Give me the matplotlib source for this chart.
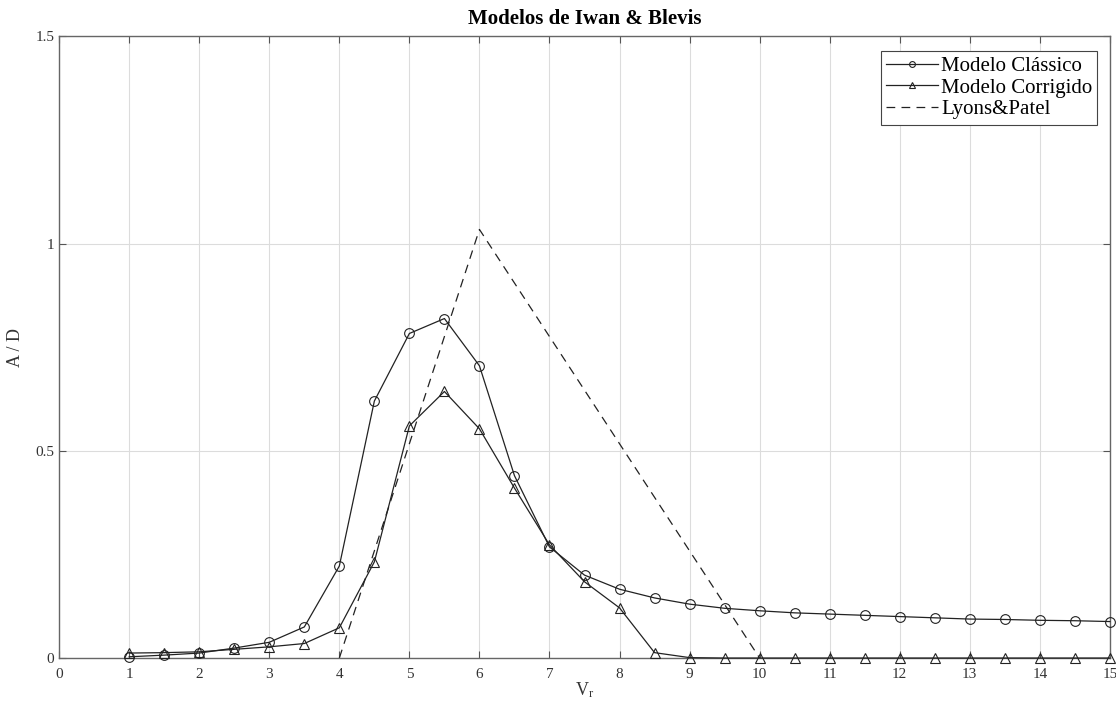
import numpy as np
import matplotlib
matplotlib.use('Agg')
import matplotlib.pyplot as plt

# Times-like font, as in the original MATLAB figure
matplotlib.rcParams['font.family'] = ['Liberation Serif', 'DejaVu Serif']
matplotlib.rcParams['mathtext.fontset'] = 'stix'

# reduced velocity
vr = [1, 1.5, 2, 2.5, 3, 3.5, 4, 4.5, 5, 5.5, 6, 6.5, 7, 7.5, 8, 8.5,
      9, 9.5, 10, 10.5, 11, 11.5, 12, 12.5, 13, 13.5, 14, 14.5, 15]

# amplitude ratios A/D
classico = [0.003, 0.007, 0.012, 0.024, 0.038, 0.075, 0.222, 0.62, 0.783, 0.819,
            0.705, 0.44, 0.268, 0.2, 0.166, 0.145, 0.13, 0.12, 0.114, 0.109,
            0.106, 0.103, 0.1, 0.097, 0.094, 0.093, 0.091, 0.09, 0.088]
corrigido = [0.012, 0.013, 0.015, 0.021, 0.027, 0.035, 0.073, 0.232, 0.56, 0.643,
             0.553, 0.41, 0.273, 0.184, 0.121, 0.013, 0.001, 0.0, 0.0, 0.0,
             0.0, 0.0, 0.0, 0.0, 0.0, 0.0, 0.0, 0.0, 0.0]

lyons_vr = [4, 6, 10]
lyons = [0.0, 1.034, 0.0]

x_ticks = list(range(0, 16))
y_ticks = [0, 0.5, 1, 1.5]
y_tick_labels = ['0', '0.5', '1', '1.5']

fig = plt.figure(figsize=(11.16, 7.11), dpi=100)
ax = fig.add_axes([0.053, 0.0745, 0.9415, 0.8745])

ax.plot(vr, classico, color='#222222', linewidth=0.9, marker='o', markersize=7,
        markerfacecolor='none', markeredgewidth=0.8, label='Modelo Clássico',
        clip_on=False, zorder=3)
ax.plot(vr, corrigido, color='#222222', linewidth=0.9, marker='^', markersize=7,
        markerfacecolor='none', markeredgewidth=0.8, label='Modelo Corrigido',
        clip_on=False, zorder=3)
ax.plot(lyons_vr, lyons, color='#222222', linewidth=0.9, linestyle=(0, (7, 5)),
        label='Lyons&Patel')

ax.set_xlim(0, 15)
ax.set_ylim(0, 1.5)
ax.set_xticks(x_ticks)
ax.set_yticks(y_ticks)
ax.set_yticklabels(y_tick_labels)
ax.grid(True, color='#dcdcdc', linewidth=0.8)
ax.set_axisbelow(True)

ax.tick_params(direction='in', top=True, right=True, labelsize=11,
               colors='#555555', length=5, width=0.8, labelcolor='#333333')
ax.tick_params(axis='x', pad=7)
for s in ax.spines.values():
    s.set_color('#666666')
    s.set_linewidth(1.0)

ax.set_title('Modelos de Iwan & Blevis', fontsize=15, fontweight='bold', pad=9)
ax.set_xlabel(r'V$_\mathregular{r}$', fontsize=13, labelpad=0, color='#333333')
ax.set_ylabel('A / D', fontsize=13, labelpad=8, color='#333333')

leg = ax.legend(loc='upper left', fontsize=15, fancybox=False, framealpha=1,
                edgecolor='#444444', handlelength=2.5, handletextpad=0.15,
                markerscale=0.6, borderpad=0.25, labelspacing=0.1,
                borderaxespad=0, bbox_to_anchor=(0.789, 0.928),
                bbox_transform=fig.transFigure)
leg.get_frame().set_linewidth(0.8)

plt.savefig('out.png', dpi=100)
